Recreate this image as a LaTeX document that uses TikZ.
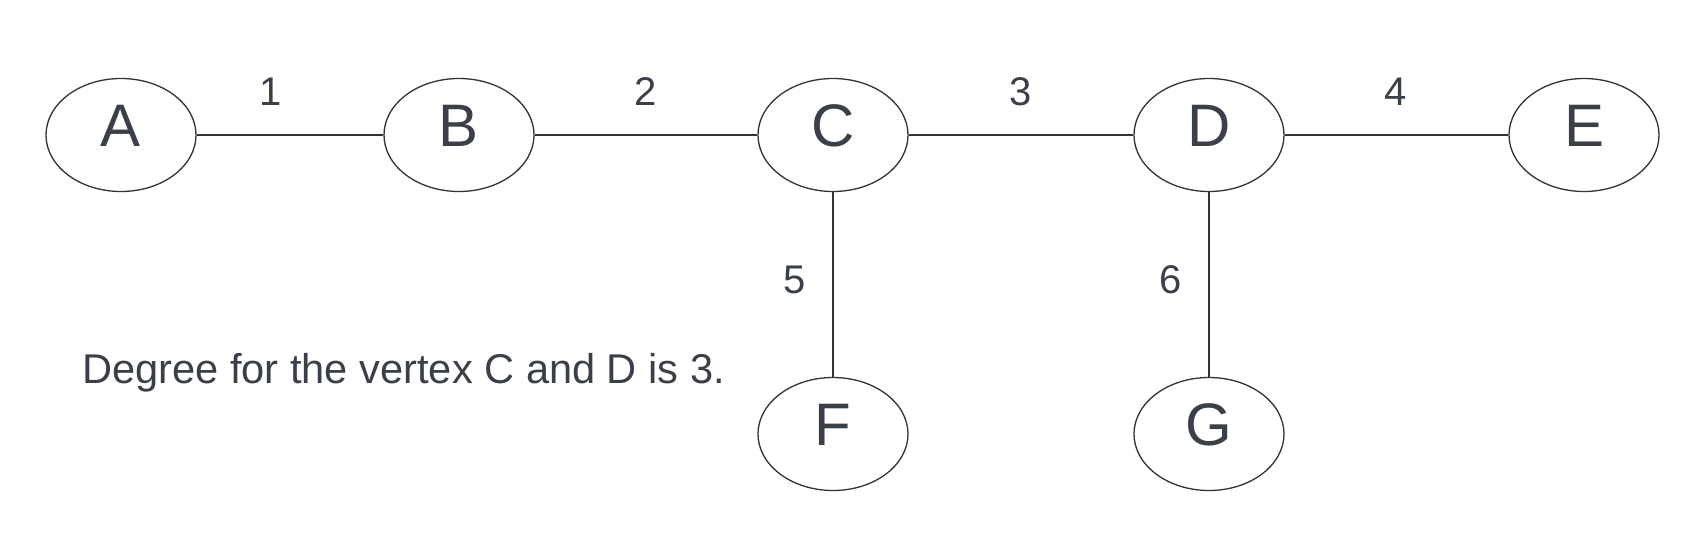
\documentclass[tikz,border=0pt]{standalone}
\usepackage{fontspec}
\setmainfont{Liberation Sans}
\usetikzlibrary{shapes.geometric}
\definecolor{ink}{HTML}{3A3F48}
\definecolor{edge}{HTML}{333333}
\tikzset{
  vert/.style={ellipse, draw=edge, line width=1.3pt, minimum width=150pt, minimum height=113pt, inner sep=0pt,
    label={[text=ink, font=\fontsize{60}{66}\selectfont, inner sep=0pt, yshift=9pt]center:#1}},
  conn/.style={draw=edge, line width=1.3pt},
  lbl/.style={text=ink, font=\fontsize{40}{44}\selectfont, inner sep=0pt}
}
\begin{document}
\begin{tikzpicture}[x=1pt,y=-1pt]
\useasboundingbox[fill=white] (0,0) rectangle (1706,533);
\node[vert=A] (A) at (121,135) {};
\node[vert=B] (B) at (459,135) {};
\node[vert=C] (C) at (833,135) {};
\node[vert=D] (D) at (1209,135) {};
\node[vert=E] (E) at (1584,135) {};
\node[vert=F] (F) at (833,434) {};
\node[vert=G] (G) at (1209,434) {};
\draw[conn] (A) -- (B);
\draw[conn] (B) -- (C);
\draw[conn] (C) -- (D);
\draw[conn] (D) -- (E);
\draw[conn] (C) -- (F);
\draw[conn] (D) -- (G);
\node[lbl] (l1) at (271,92) {1};
\node[lbl] (l2) at (646,92) {2};
\node[lbl] (l3) at (1021,92) {3};
\node[lbl] (l4) at (1396,92) {4};
\node[lbl] (l5) at (795,280) {5};
\node[lbl] (l6) at (1171,280) {6};
\node[lbl, font=\fontsize{41.6}{46}\selectfont, anchor=west] (note) at (82,373) {Degree for the vertex C and D is 3.};
\end{tikzpicture}
\end{document}
